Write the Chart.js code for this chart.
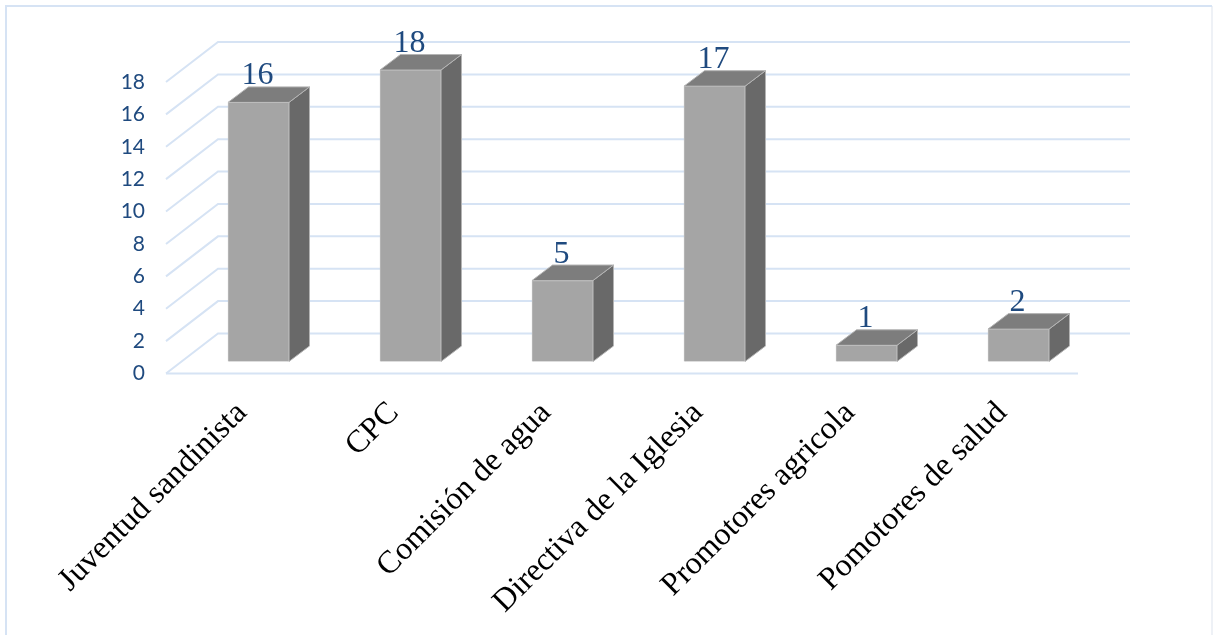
<!DOCTYPE html>
<html lang="es">
<head>
<meta charset="utf-8">
<title>Organizaciones</title>
<script src="https://cdn.jsdelivr.net/npm/chart.js@4"></script>
<style>
    html, body { margin: 0; padding: 0; background: #fff; overflow: hidden; }
    canvas { display: block; }
</style>
</head>
<body>
<canvas id="chart" width="1213" height="635"></canvas>
<script>
// Datos
const categories = ['Juventud sandinista', 'CPC', 'Comisión de agua', 'Directiva de la Iglesia', 'Promotores agricola', 'Pomotores de salud'];
const values = [16, 18, 5, 17, 1, 2];
const yMax = 18;
const yStep = 2;

// Perspectiva falsa 3D
const wallDx = 52, wallDy = 40;     // del plano frontal a la pared de fondo
const barDx = 16.5, barDy = 12;     // desplazamiento de las barras sobre el piso
const depthDx = 20.5, depthDy = 15.5; // profundidad de cada barra

const gridColor = '#d6e3f4';
const textBlue = '#1f4a7f';

const frame3d = {
    id: 'frame3d',
    // marco exterior y rejilla (pared + piso)
    beforeDatasetsDraw(chart) {
        const { ctx, scales: { x, y } } = chart;
        ctx.save();
        ctx.lineWidth = 2;
        ctx.strokeStyle = '#eef1f6';
        ctx.beginPath();
        ctx.moveTo(1212, 6);
        ctx.lineTo(1212, chart.height);
        ctx.stroke();

        ctx.strokeStyle = gridColor;
        ctx.beginPath();
        ctx.moveTo(6, chart.height);
        ctx.lineTo(6, 6);
        ctx.lineTo(1212, 6);
        ctx.stroke();

        y.ticks.forEach(t => {
            const py = y.getPixelForValue(t.value);
            ctx.beginPath();
            ctx.moveTo(x.left, py);
            ctx.lineTo(x.left + wallDx, py - wallDy);
            ctx.lineTo(x.right + wallDx, py - wallDy);
            ctx.stroke();
        });
        const floor = y.getPixelForValue(0);
        ctx.beginPath();
        ctx.moveTo(x.left, floor);
        ctx.lineTo(x.right, floor);
        ctx.stroke();
        ctx.restore();
    },
    // la cara frontal la dibuja Chart.js, desplazada hacia el fondo
    beforeDatasetDraw(chart, args) {
        const { ctx } = chart;
        ctx.save();
        ctx.translate(barDx, -barDy);
        ctx.lineWidth = 1;
        ctx.strokeStyle = '#b4b4b4';
        args.meta.data.forEach(bar => {
            const l = bar.x - bar.width / 2, r = bar.x + bar.width / 2;
            // cara lateral
            ctx.fillStyle = '#696969';
            ctx.beginPath();
            ctx.moveTo(r, bar.y);
            ctx.lineTo(r + depthDx, bar.y - depthDy);
            ctx.lineTo(r + depthDx, bar.base - depthDy);
            ctx.lineTo(r, bar.base);
            ctx.closePath();
            ctx.fill();
            ctx.stroke();
            // cara superior
            ctx.fillStyle = '#7d7d7d';
            ctx.beginPath();
            ctx.moveTo(l, bar.y);
            ctx.lineTo(l + depthDx, bar.y - depthDy);
            ctx.lineTo(r + depthDx, bar.y - depthDy);
            ctx.lineTo(r, bar.y);
            ctx.closePath();
            ctx.fill();
            ctx.stroke();
        });
    },
    afterDatasetDraw(chart, args) {
        const { ctx } = chart;
        ctx.fillStyle = textBlue;
        ctx.font = '32px "Liberation Serif"';
        ctx.textAlign = 'center';
        ctx.textBaseline = 'alphabetic';
        args.meta.data.forEach((bar, i) => {
            ctx.fillText(String(values[i]), bar.x - 1, bar.y - 18);
        });
        ctx.restore();
    }
};

new Chart(document.getElementById('chart'), {
    type: 'bar',
    data: {
        labels: categories,
        datasets: [{
            data: values,
            backgroundColor: '#a5a5a5',
            borderColor: '#bcbcbc',
            borderWidth: 1,
            barThickness: 61,
            clip: false
        }]
    },
    options: {
        responsive: false,
        animation: false,
        layout: { padding: { top: 82, right: 135, left: 0, bottom: 0 } },
        plugins: { legend: { display: false }, tooltip: { enabled: false } },
        scales: {
            x: {
                grid: { display: false },
                border: { display: false },
                ticks: {
                    minRotation: 45,
                    maxRotation: 45,
                    autoSkip: false,
                    padding: 13,
                    color: '#000',
                    font: { family: '"Liberation Serif"', size: 32 }
                },
                afterFit(scale) { scale.height = 261.5; }
            },
            y: {
                min: 0,
                max: yMax,
                grid: { display: false, drawTicks: false },
                border: { display: false },
                ticks: {
                    stepSize: yStep,
                    padding: 21,
                    color: textBlue,
                    font: { family: 'Lato', size: 21 }
                },
                afterFit(scale) { scale.width = 166; }
            }
        }
    },
    plugins: [frame3d]
});
</script>
</body>
</html>
